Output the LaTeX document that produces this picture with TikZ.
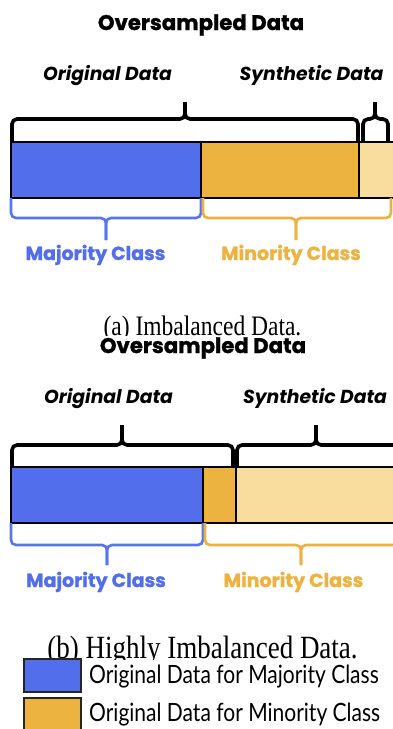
\documentclass[tikz,border=0pt]{standalone}
\usepackage{graphicx}
\usepackage{fontspec}
\setmainfont{Liberation Serif}
\newfontfamily\headfont{Poppins}[BoldFeatures={FakeBold=1.2}]
\newfontfamily\legendfont{Lato}
\definecolor{majblue}{HTML}{536EEA}
\definecolor{minorange}{HTML}{EDB341}
\definecolor{synthlight}{HTML}{F8DD9E}
\definecolor{bracegold}{HTML}{EEB040}
\definecolor{braceblue}{HTML}{5675EF}

\tikzset{
  title/.style={font=\headfont\bfseries\fontsize{21.2}{25}\selectfont, anchor=base, inner sep=0pt},
  part/.style={font=\headfont\bfseries\itshape\fontsize{18.8}{22}\selectfont, anchor=base, inner sep=0pt},
  classlbl/.style={font=\headfont\bfseries\fontsize{19}{22}\selectfont, anchor=base, inner sep=0pt},
  caption/.style={anchor=base, inner sep=0pt},
  legendtext/.style={font=\legendfont\fontsize{21}{25}\selectfont, anchor=base west, inner sep=0pt},
  bar/.style={draw=black, line width=1.3pt},
  legendbox/.style={draw=black!85, line width=1.3pt},
  blackbrace/.style={draw=black, line width=3.6pt, rounded corners=5pt},
  bluebrace/.style={draw=braceblue, line width=2.6pt, rounded corners=5pt},
  goldbrace/.style={draw=bracegold, line width=2.6pt, rounded corners=5pt},
}

% curly brace: style, left x, right x, tip x, end y, spine y, tip y
\newcommand\databrace[7]{%
  \draw[#1] (#2,#5) -- (#2,#6) -- (#4,#6) -- (#4,#7);
  \draw[#1] (#3,#5) -- (#3,#6) -- (#4,#6) -- (#4,#7);
}
% text stretched upright a little
\newcommand\tallText[1]{\scalebox{1}[1.2]{#1}}
% caption text cut off at its baseline (no depth)
\newcommand\cutText[1]{\raisebox{0pt}[\height][0pt]{\tallText{#1}}}

\begin{document}
\begin{tikzpicture}[x=1pt,y=-1pt]
  \useasboundingbox (0,0) rectangle (393,729);
  \clip (0,0) rectangle (393,729);
  \fill[white] (0,0) rectangle (393,729);

  % ---------- (a) imbalanced data ----------
  \node[title] (ta) at (201,30) {Oversampled Data};
  \node[part] (oa) at (107.5,80) {Original Data};
  \node[part] (sa) at (311.5,80) {Synthetic Data};

  \databrace{blackbrace}{12}{358}{185}{141}{119}{102}
  \databrace{blackbrace}{363}{388}{375}{141}{119}{102}

  \fill[majblue] (11,142) rectangle (201,198);
  \fill[minorange] (201,142) rectangle (359,198);
  \fill[synthlight] (359,142) rectangle (400,198);
  \draw[bar] (11,142) rectangle (400,198);
  \draw[bar] (201,142) -- (201,198);
  \draw[bar] (359,142) -- (359,198);

  \databrace{bluebrace}{11}{201}{106}{198}{218}{240}
  \databrace{goldbrace}{203}{391}{296}{198}{218}{240}

  \node[classlbl, text=majblue] (ma) at (95.5,260) {Majority Class};
  \node[classlbl, text=minorange] (na) at (291,260) {Minority Class};

  \begin{scope}
    \clip (0,300) rectangle (393,335);
    \node[caption, font=\fontsize{23.5}{28}\selectfont] (ca) at (202.5,335) {\cutText{(a) Imbalanced Data.}};
  \end{scope}

  % ---------- (b) highly imbalanced data ----------
  \node[title] (tb) at (203,353) {Oversampled Data};
  \node[part] (ob) at (108.5,403) {Original Data};
  \node[part] (sb) at (315,403) {Synthetic Data};

  \databrace{blackbrace}{12}{233}{122}{466}{445}{425}
  \databrace{blackbrace}{237}{400}{316}{466}{445}{425}

  \fill[majblue] (11,467) rectangle (203,523);
  \fill[minorange] (203,467) rectangle (236,523);
  \fill[synthlight] (236,467) rectangle (400,523);
  \draw[bar] (11,467) rectangle (400,523);
  \draw[bar] (203,467) -- (203,523);
  \draw[bar] (236,467) -- (236,523);

  \databrace{bluebrace}{11}{203}{107}{523}{545}{565}
  \databrace{goldbrace}{205}{400}{301}{523}{545}{565}

  \node[classlbl, text=majblue] (mb) at (96,587) {Majority Class};
  \node[classlbl, text=minorange] (nb) at (293.5,587) {Minority Class};

  \begin{scope}
    \clip (0,620) rectangle (393,659);
    \node[caption, font=\fontsize{27}{32}\selectfont] (cb) at (202.5,658) {\cutText{(b) Highly Imbalanced Data.}};
  \end{scope}

  % ---------- legend ----------
  \draw[legendbox, fill=majblue] (24,659) rectangle (81,692);
  \node[legendtext] (lb) at (89,683) {\tallText{Original Data for Majority Class}};
  \draw[legendbox, fill=minorange] (24,698) rectangle (81,740);
  \node[legendtext] (lo) at (89,721) {\tallText{Original Data for Minority Class}};
\end{tikzpicture}
\end{document}
